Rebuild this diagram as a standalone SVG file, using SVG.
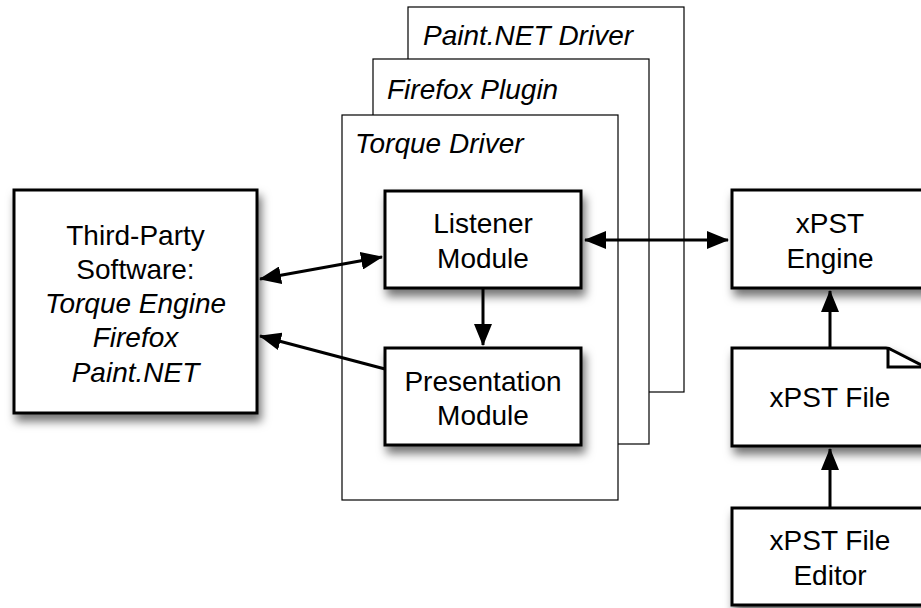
<svg xmlns="http://www.w3.org/2000/svg" width="921" height="608" viewBox="0 0 921 608">
<style>
text{font-family:"Liberation Sans",Arial,Helvetica,sans-serif;font-size:28px;fill:#000}
.c{text-anchor:middle}
.i{font-style:italic}
.frame{fill:#fff;stroke:#000;stroke-width:1.2}
.box{fill:#fff;stroke:#000;stroke-width:3}
.ln{fill:none;stroke:#000;stroke-width:3}
</style>
<defs>
<filter id="sh" x="-20%" y="-20%" width="150%" height="150%">
<feDropShadow dx="3" dy="7" stdDeviation="5" flood-color="#000" flood-opacity="0.55"/>
</filter>
<marker id="ah" markerUnits="userSpaceOnUse" markerWidth="22" markerHeight="18" viewBox="0 0 22 18" refX="21" refY="9" orient="auto-start-reverse">
<path d="M0,0 L22,9 L0,18 z" fill="#000"/>
</marker>
</defs>
<rect width="921" height="608" fill="#fff"/>
<g id="paintnet-driver">
<rect class="frame" x="408" y="7" width="276" height="385"/>
<text class="i" x="423" y="45">Paint.NET Driver</text>
</g>
<g id="firefox-plugin">
<rect class="frame" x="373" y="59" width="276" height="385"/>
<text class="i" x="387" y="99">Firefox Plugin</text>
</g>
<g id="torque-driver">
<rect class="frame" x="342" y="115" width="276" height="385"/>
<text class="i" x="355" y="153">Torque Driver</text>
</g>
<g id="third-party">
<rect class="box" filter="url(#sh)" x="14" y="190" width="243" height="223"/>
<text class="c" x="135.5" y="245">Third-Party</text>
<text class="c" x="135.5" y="279">Software:</text>
<text class="c i" x="135.5" y="313">Torque Engine</text>
<text class="c i" x="135.5" y="347">Firefox</text>
<text class="c i" x="135.5" y="382">Paint.NET</text>
</g>
<g id="listener-module">
<rect class="box" filter="url(#sh)" x="385" y="191" width="196" height="97"/>
<text class="c" x="483" y="233">Listener</text>
<text class="c" x="483" y="268">Module</text>
</g>
<g id="presentation-module">
<rect class="box" filter="url(#sh)" x="385" y="348" width="196" height="97"/>
<text class="c" x="483" y="391">Presentation</text>
<text class="c" x="483" y="425">Module</text>
</g>
<g id="xpst-engine">
<rect class="box" filter="url(#sh)" x="732" y="190" width="200" height="98"/>
<text class="c" x="830" y="233">xPST</text>
<text class="c" x="830" y="268">Engine</text>
</g>
<g id="xpst-file">
<path class="box" filter="url(#sh)" d="M732,348 L886,348 Q889,348 892,350 L935,372 L935,446 L732,446 Z"/>
<path class="ln" stroke-width="2.5" d="M888,349 L888,367 L926,367"/>
<text class="c" x="830" y="407">xPST File</text>
</g>
<g id="xpst-file-editor">
<rect class="box" filter="url(#sh)" x="732" y="508" width="200" height="97"/>
<text class="c" x="830" y="550">xPST File</text>
<text class="c" x="830" y="585">Editor</text>
</g>
<g id="connectors">
<line class="ln" x1="260" y1="279" x2="382" y2="257" marker-start="url(#ah)" marker-end="url(#ah)"/>
<line class="ln" x1="385" y1="369" x2="260" y2="336" marker-end="url(#ah)"/>
<line class="ln" x1="585" y1="240" x2="728" y2="240" marker-start="url(#ah)" marker-end="url(#ah)"/>
<line class="ln" x1="483" y1="288" x2="483" y2="345" marker-end="url(#ah)"/>
<line class="ln" x1="830" y1="348" x2="830" y2="291" marker-end="url(#ah)"/>
<line class="ln" x1="830" y1="508" x2="830" y2="449" marker-end="url(#ah)"/>
</g>
</svg>
